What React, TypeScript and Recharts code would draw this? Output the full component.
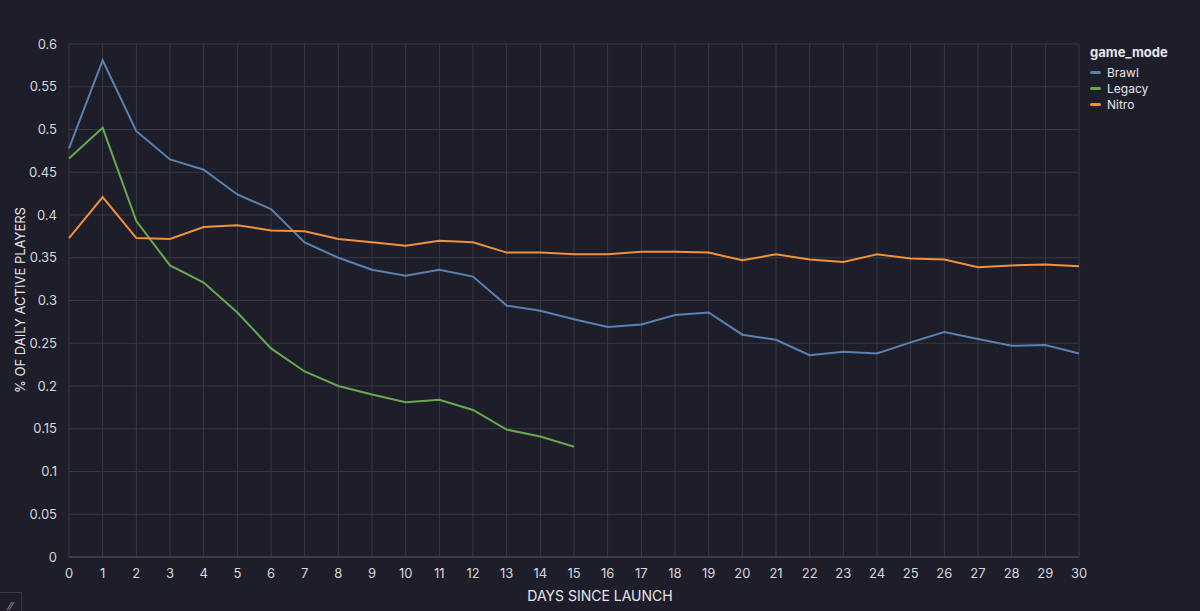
import React from "react"
import { LineChart, Line, XAxis, YAxis, CartesianGrid } from "recharts"

const days = Array.from({ length: 31 }, (_, i) => i)

const brawl = [
  0.478, 0.581, 0.498, 0.465, 0.453, 0.424, 0.407, 0.368, 0.35, 0.336, 0.329, 0.336, 0.328, 0.294, 0.288, 0.278,
  0.269, 0.272, 0.283, 0.286, 0.26, 0.254, 0.236, 0.24, 0.238, 0.251, 0.263, 0.255, 0.247, 0.248, 0.238,
]
const legacy = [
  0.466, 0.502, 0.393, 0.341, 0.321, 0.286, 0.244, 0.217, 0.2, 0.19, 0.181, 0.184, 0.172, 0.149, 0.141, 0.129,
]
const nitro = [
  0.373, 0.421, 0.373, 0.372, 0.386, 0.388, 0.382, 0.381, 0.372, 0.368, 0.364, 0.37, 0.368, 0.356, 0.356, 0.354,
  0.354, 0.357, 0.357, 0.356, 0.347, 0.354, 0.348, 0.345, 0.354, 0.349, 0.348, 0.339, 0.341, 0.342, 0.34,
]

const yTicks = [0, 0.05, 0.1, 0.15, 0.2, 0.25, 0.3, 0.35, 0.4, 0.45, 0.5, 0.55, 0.6]

const series = [
  { key: "Brawl", color: "#5b80b2" },
  { key: "Legacy", color: "#6aa84f" },
  { key: "Nitro", color: "#f0923b" },
]

const data = days.map((d, i) => ({
  day: d,
  Brawl: brawl[i],
  Legacy: i < legacy.length ? legacy[i] : null,
  Nitro: nitro[i],
}))

const font = "Inter, 'Noto Sans', sans-serif"

function LegendBox() {
  return (
    <div style={{ position: "absolute", left: 1090, top: 44, fontFamily: font, color: "#e6e6ea" }}>
      <div style={{ fontSize: 13, fontWeight: 700, marginBottom: 4 }}>game_mode</div>
      {series.map((s) => (
        <div key={s.key} style={{ display: "flex", alignItems: "center", fontSize: 12, height: 16 }}>
          <span style={{ width: 11, height: 3, background: s.color, borderRadius: 2, marginRight: 6 }} />
          {s.key}
        </div>
      ))}
    </div>
  )
}

export default function App() {
  return (
    <div
      style={{
        position: "absolute",
        top: 0,
        left: 0,
        width: 1200,
        height: 611,
        background: "#1e1e2a",
        overflow: "hidden",
      }}
    >
      <LineChart width={1200} height={611} data={data} margin={{ top: 44, right: 121, bottom: 0, left: 0 }}>
        <CartesianGrid stroke="#383846" strokeWidth={1} />
        <XAxis
          dataKey="day"
          type="number"
          domain={[0, 30]}
          ticks={days}
          interval={0}
          height={54}
          axisLine={{ stroke: "#4a4a5a" }}
          tickLine={false}
          tick={{ fill: "#d6d6dc", fontSize: 13, fontFamily: font }}
          tickMargin={6}
        />
        <YAxis
          type="number"
          domain={[0, 0.6]}
          ticks={yTicks}
          interval={0}
          width={69}
          axisLine={false}
          tickLine={false}
          tick={{ fill: "#d6d6dc", fontSize: 13, fontFamily: font }}
          tickMargin={6}
        />
        {series.map((s) => (
          <Line
            key={s.key}
            dataKey={s.key}
            type="linear"
            stroke={s.color}
            strokeWidth={2}
            dot={false}
            activeDot={false}
            connectNulls={false}
            isAnimationActive={false}
          />
        ))}
      </LineChart>
      <LegendBox />
      <div
        style={{
          position: "absolute",
          left: 20,
          top: 300,
          transform: "translate(-50%, -50%) rotate(-90deg)",
          whiteSpace: "nowrap",
          fontFamily: font,
          fontSize: 13,
          color: "#e6e6ea",
        }}
      >
        % OF DAILY ACTIVE PLAYERS
      </div>
      <div
        style={{
          position: "absolute",
          left: 600,
          top: 595,
          transform: "translate(-50%, -50%)",
          whiteSpace: "nowrap",
          fontFamily: font,
          fontSize: 14,
          color: "#e6e6ea",
        }}
      >
        DAYS SINCE LAUNCH
      </div>
      <div
        style={{
          position: "absolute",
          left: -1,
          top: 592,
          width: 21,
          height: 21,
          border: "1px solid #3a3a48",
          color: "#9a9aa6",
          fontSize: 10,
          fontFamily: font,
          lineHeight: "26px",
          textAlign: "center",
        }}
      >
        ⁄⁄
      </div>
    </div>
  )
}
